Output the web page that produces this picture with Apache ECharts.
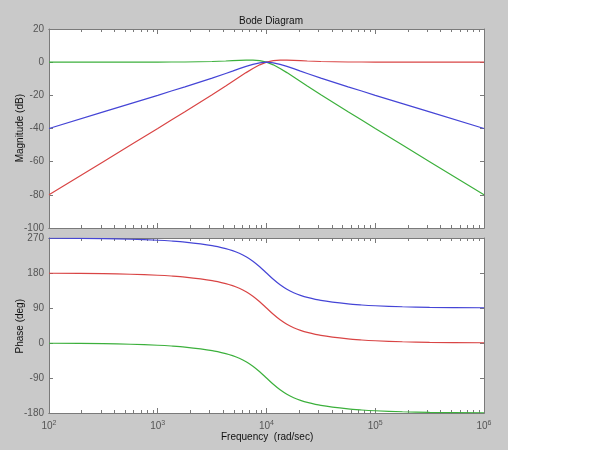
<!DOCTYPE html>
<html>
<head>
<meta charset="utf-8">
<script src="https://cdn.jsdelivr.net/npm/echarts@6/dist/echarts.min.js"></script>
<style>
  html, body { margin: 0; padding: 0; background: #fff; }
  #bode { width: 600px; height: 450px; background: linear-gradient(to right, #c9c9c9 508px, #fff 508px); }
</style>
</head>
<body>
<div id="bode"></div>
<script>
// frequency points (rad/sec)
const freq = [100, 316, 562, 1000, 1334, 1778, 3162, 4217, 4870, 5623, 6494, 7499, 8660, 10000,
    11548, 13335, 15399, 17783, 20535, 23714, 31623, 56234, 74989, 100000, 177828, 316228, 1000000]

// magnitude (dB)
const mag_blue  = [-40, -30, -25, -20, -17.4, -14.9, -9.6, -6.8, -5.4, -3.9, -2.5, -1.3, -0.4, 0,
    -0.4, -1.3, -2.5, -3.9, -5.4, -6.8, -9.6, -14.9, -17.4, -20, -25, -30, -40]
const mag_red   = [-80, -60, -50, -40, -34.9, -29.9, -19.6, -14.3, -11.6, -8.9, -6.3, -3.8, -1.6, 0,
    0.9, 1.2, 1.2, 1.1, 0.9, 0.7, 0.4, 0.1, 0.1, 0, 0, 0, 0]
const mag_green = [0, 0, 0, 0, 0.1, 0.1, 0.4, 0.7, 0.9, 1.1, 1.2, 1.2, 0.9, 0,
    -1.6, -3.8, -6.3, -8.9, -11.6, -14.3, -19.6, -29.9, -34.9, -40, -50, -60, -80]

// phase (deg)
const ph_blue  = [269.4, 268.2, 266.8, 264.2, 262.3, 259.6, 250.6, 242.8, 237.4, 230.6, 221.7, 210.3, 196.1, 180,
    163.9, 149.7, 138.3, 129.4, 122.6, 117.2, 109.4, 100.4, 97.7, 95.8, 93.2, 91.8, 90.6]
const ph_red   = [179.4, 178.2, 176.8, 174.2, 172.3, 169.6, 160.6, 152.8, 147.4, 140.6, 131.7, 120.3, 106.1, 90,
    73.9, 59.7, 48.3, 39.4, 32.6, 27.2, 19.4, 10.4, 7.7, 5.8, 3.2, 1.8, 0.6]
const ph_green = [-0.6, -1.8, -3.2, -5.8, -7.7, -10.4, -19.4, -27.2, -32.6, -39.4, -48.3, -59.7, -73.9, -90,
    -106.1, -120.3, -131.7, -140.6, -147.4, -152.8, -160.6, -169.6, -172.3, -174.2, -176.8, -178.2, -179.4]

// ticks
const major_ticks = [100, 1000, 10000, 100000, 1000000]
const minor_ticks = []
for (let d = 100; d < 1000000; d *= 10) {
    for (let k = 2; k <= 9; k++) minor_ticks.push(d * k)
}

const axis_color = '#7a7a7a'
const text_color = '#555'
const font = 'Liberation Sans, Arial, sans-serif'

function pair(xs, ys) {
    return xs.map((x, i) => [x, ys[i]])
}

function x_axis(grid, position, ticks, len, labels) {
    return {
        type: 'log',
        gridIndex: grid,
        position: position,
        min: 100,
        max: 1000000,
        axisLine: { show: true, onZero: false, lineStyle: { color: axis_color, width: 1 } },
        axisTick: { show: true, inside: true, length: len, customValues: ticks, lineStyle: { color: axis_color } },
        axisLabel: labels ? {
            show: true,
            customValues: major_ticks,
            margin: 7,
            color: text_color,
            fontFamily: font,
            fontSize: 10,
            formatter: (v) => '10{sup|' + Math.round(Math.log10(v)) + '}',
            rich: { sup: { fontSize: 7, verticalAlign: 'top', padding: [0, 0, 6, 0], color: text_color, fontFamily: font } }
        } : { show: false },
        splitLine: { show: false },
        minorTick: { show: false }
    }
}

function y_axis(grid, position, min, max, interval, labels) {
    return {
        type: 'value',
        gridIndex: grid,
        position: position,
        min: min,
        max: max,
        interval: interval,
        axisLine: { show: true, onZero: false, lineStyle: { color: axis_color, width: 1 } },
        axisTick: { show: true, inside: true, length: 4, lineStyle: { color: axis_color } },
        axisLabel: labels ? { show: true, color: text_color, fontFamily: font, fontSize: 10, margin: 5 } : { show: false },
        splitLine: { show: false }
    }
}

function line(name, color, x_idx, y_idx, data, smooth) {
    return {
        name: name,
        type: 'line',
        xAxisIndex: x_idx,
        yAxisIndex: y_idx,
        data: data,
        showSymbol: false,
        smooth: smooth,
        lineStyle: { color: color, width: 1.2 },
        itemStyle: { color: color },
        animation: false
    }
}

const blue = '#4545d6'
const red = '#d94545'
const green = '#3cb03c'

let option = {
    backgroundColor: 'transparent',
    animation: false,
    title: {
        text: 'Bode Diagram',
        left: 266,
        top: 11,
        textAlign: 'center',
        textStyle: { fontSize: 10, fontWeight: 'normal', color: '#111', fontFamily: font }
    },
    grid: [
        { left: 49, top: 29, width: 435, height: 199, backgroundColor: '#fff', show: true, borderWidth: 0 },
        { left: 49, top: 238, width: 435, height: 175, backgroundColor: '#fff', show: true, borderWidth: 0 }
    ],
    xAxis: [
        x_axis(0, 'bottom', major_ticks, 5, false),
        x_axis(0, 'bottom', minor_ticks, 3, false),
        x_axis(0, 'top', major_ticks, 5, false),
        x_axis(0, 'top', minor_ticks, 3, false),
        x_axis(1, 'bottom', major_ticks, 5, true),
        x_axis(1, 'bottom', minor_ticks, 3, false),
        x_axis(1, 'top', major_ticks, 5, false),
        x_axis(1, 'top', minor_ticks, 3, false)
    ],
    yAxis: [
        y_axis(0, 'left', -100, 20, 20, true),
        y_axis(0, 'right', -100, 20, 20, false),
        y_axis(1, 'left', -180, 270, 90, true),
        y_axis(1, 'right', -180, 270, 90, false)
    ],
    graphic: [
        { type: 'text', left: 15, top: 94, rotation: Math.PI / 2,
          style: { text: 'Magnitude (dB)', fill: '#111', font: '10px ' + font } },
        { type: 'text', left: 15, top: 299, rotation: Math.PI / 2,
          style: { text: 'Phase (deg)', fill: '#111', font: '10px ' + font } },
        { type: 'text', left: 221, top: 432,
          style: { text: 'Frequency  (rad/sec)', fill: '#111', font: '10px ' + font } }
    ],
    series: [
        line('mag_green', green, 0, 0, pair(freq, mag_green), false),
        line('mag_red', red, 0, 0, pair(freq, mag_red), false),
        line('mag_blue', blue, 0, 0, pair(freq, mag_blue), false),
        line('ph_blue', blue, 4, 2, pair(freq, ph_blue), 0.3),
        line('ph_red', red, 4, 2, pair(freq, ph_red), 0.3),
        line('ph_green', green, 4, 2, pair(freq, ph_green), 0.3)
    ]
}

const chart = echarts.init(document.getElementById('bode'))
chart.setOption(option)
</script>
</body>
</html>
